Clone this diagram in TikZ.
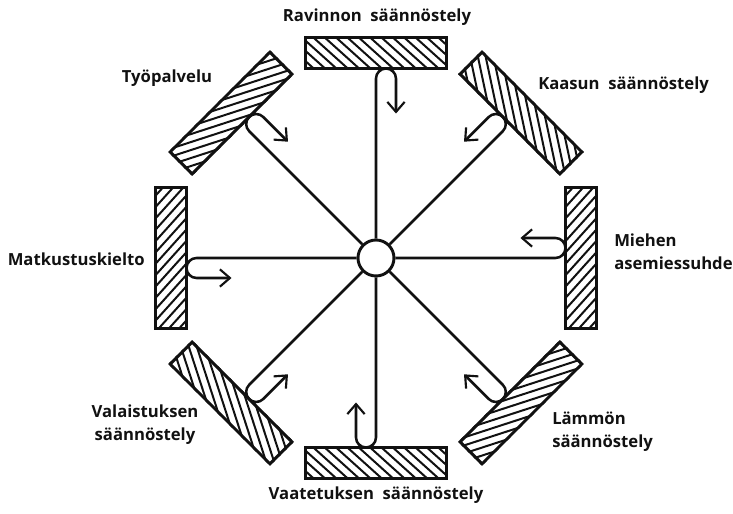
\documentclass[tikz,border=0pt]{standalone}
\usepackage{fontspec}
\setmainfont{Open Sans}
\usetikzlibrary{arrows.meta,calc}
\definecolor{ink}{HTML}{111111}
\tikzset{
  hub/.style  ={draw=ink, line width=2.2pt, circle, fill=white, minimum size=27pt, inner sep=0pt},
  bar/.style  ={draw=ink, line width=2.2pt, minimum width=105.75pt, minimum height=23.25pt, inner sep=0pt},
  hline/.style={draw=ink, line width=1.5pt},
  spoke/.style={draw=ink, line width=1.9pt, -{Straight Barb[length=7.5pt,width=13pt,line width=1.6pt]}},
  lbl/.style  ={font=\fontsize{12.5}{17}\selectfont\bfseries, text=ink, inner sep=0pt},
}
\newcommand{\hatchbar}[2]{%
  \begin{scope}
    \clip (#1.north west) -- (#1.north east) -- (#1.south east) -- (#1.south west) -- cycle;
    \foreach \k in {-11,...,11}
      \draw[hline] ($(#1)+(#2+90:\k*7.6)+(#2:-120)$) -- ++(#2:240);
  \end{scope}}

\begin{document}
\begin{tikzpicture}[x=0.75pt,y=0.75pt]
    \useasboundingbox (-376,-256) rectangle (357,258);

    \node[hub] (hub) at (0,0) {};

    \node[bar] (rav) at (90:205) {};
    \node[bar,rotate=-45] (kaa) at (45:205) {};
    \node[bar,rotate=-90] (mie) at (0:205) {};
    \node[bar,rotate=-135] (lam) at (-45:205) {};
    \node[bar,rotate=180] (vaa) at (-90:205) {};
    \node[bar,rotate=135] (val) at (-135:205) {};
    \node[bar,rotate=90] (mat) at (180:205) {};
    \node[bar,rotate=45] (tyo) at (135:205) {};

    \hatchbar{rav}{-42}
    \hatchbar{kaa}{-78}
    \hatchbar{mie}{48}
    \hatchbar{lam}{18}
    \hatchbar{vaa}{-42}
    \hatchbar{val}{-72}
    \hatchbar{mat}{48}
    \hatchbar{tyo}{18}

    \draw[spoke] (hub.90) -- ($(hub)!134.6pt!(rav)$) arc[start angle=180,end angle=0,radius=10] -- ++(270:35);
    \draw[spoke] (hub.45) -- ($(hub)!134.6pt!(kaa)$) arc[start angle=-45,end angle=135,radius=10] -- ++(225:35);
    \draw[spoke] (hub.0) -- ($(hub)!134.6pt!(mie)$) arc[start angle=-90,end angle=90,radius=10] -- ++(180:35);
    \draw[spoke] (hub.-45) -- ($(hub)!134.6pt!(lam)$) arc[start angle=45,end angle=-135,radius=10] -- ++(135:35);
    \draw[spoke] (hub.-90) -- ($(hub)!134.6pt!(vaa)$) arc[start angle=0,end angle=-180,radius=10] -- ++(90:35);
    \draw[spoke] (hub.-135) -- ($(hub)!134.6pt!(val)$) arc[start angle=-225,end angle=-45,radius=10] -- ++(45:35);
    \draw[spoke] (hub.180) -- ($(hub)!134.6pt!(mat)$) arc[start angle=90,end angle=270,radius=10] -- ++(0:35);
    \draw[spoke] (hub.135) -- ($(hub)!134.6pt!(tyo)$) arc[start angle=225,end angle=45,radius=10] -- ++(-45:35);

    \node[lbl] (trav) at (1,241) {Ravinnon\ \ säännöstely};
    \node[lbl,anchor=west] (tkaa) at (162,173) {Kaasun\ \ säännöstely};
    \node[lbl] (ttyo) at (-209,180) {Työpalvelu};
    \node[lbl,anchor=east] (tmat) at (-231,-1) {Matkustuskielto};
    \node[lbl,anchor=west,align=left] (tmie) at (238,6.5) {Miehen\\asemiessuhde};
    \node[lbl,align=center] (tval) at (-231,-166.5) {Valaistuksen\\säännöstely};
    \node[lbl,anchor=west,align=left] (tlam) at (176,-173.5) {Lämmön\\säännöstely};
    \node[lbl] (tvaa) at (0,-237) {Vaatetuksen\ \ säännöstely};
\end{tikzpicture}
\end{document}
